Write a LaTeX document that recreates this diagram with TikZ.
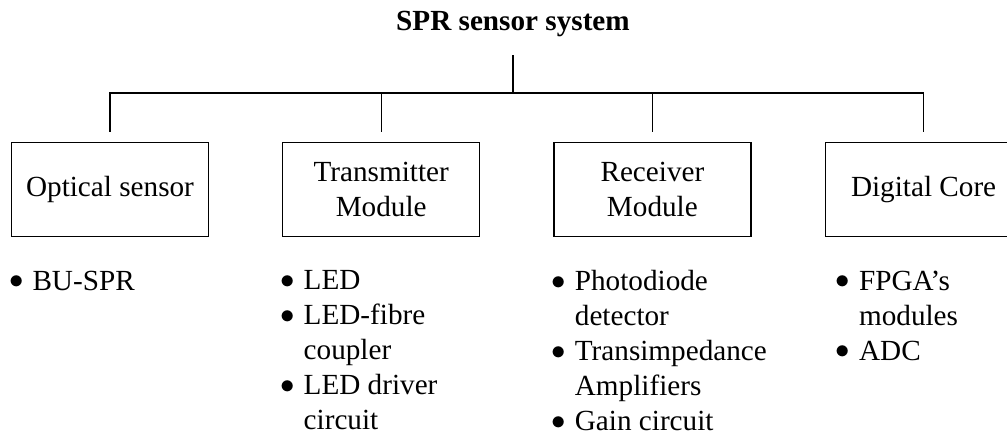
\documentclass[tikz,border=0pt]{standalone}
\usepackage{fontspec}
\setmainfont{Liberation Serif}
\usepackage{tikz}
\usetikzlibrary{positioning}
\newcommand{\itm}{\makebox[10.5pt][l]{\hspace{-1.2pt}\raisebox{0.8pt}{$\bullet$}}}
\newcommand{\cnt}{\hspace*{10.5pt}}

\begin{document}
\begin{tikzpicture}[x=0.5pt,y=-0.5pt,font=\fontsize{14.6pt}{17.5pt}\selectfont,
  node distance=36.5pt,line width=0.6pt,
  box/.style={draw,minimum width=98.5pt,minimum height=47pt,align=center,inner sep=0pt},
  head/.style={font=\fontsize{14.6pt}{17.5pt}\selectfont\bfseries,inner sep=0pt},
  items/.style={align=left,inner sep=0pt}]
\useasboundingbox (0,0) rectangle (1007,437);
\node[head,anchor=base] (sys) at (513,31) {SPR sensor system};
\coordinate (rail) at (513,93);
\node[box] (opt) at (110,189.5) {Optical sensor};
\node[box,right=of opt] (tx) {Transmitter\\Module};
\node[box,right=of tx] (rx) {Receiver\\Module};
\node[box,right=of rx] (dig) {Digital Core};
\node[items,below right=16.5pt and 0pt of opt.south west] (optl) {\itm BU-SPR};
\node[items,below right=16.5pt and 0pt of tx.south west] (txl) {\itm LED\\\itm LED-fibre\\\cnt coupler\\\itm LED driver\\\cnt circuit};
\node[items,below right=16.5pt and 0pt of rx.south west] (rxl) {\itm Photodiode\\\cnt detector\\\itm Transimpedance\\\cnt Amplifiers\\\itm Gain circuit};
\node[items,below right=16.5pt and 6.5pt of dig.south west] (digl) {\itm FPGA’s\\\cnt modules\\\itm ADC};
\draw ([yshift=-8.75pt]sys.south) -- (rail);
\foreach \b in {opt,tx,rx,dig}
  \draw[shorten >=5pt] (rail) -| (\b.north);
\end{tikzpicture}
\end{document}
